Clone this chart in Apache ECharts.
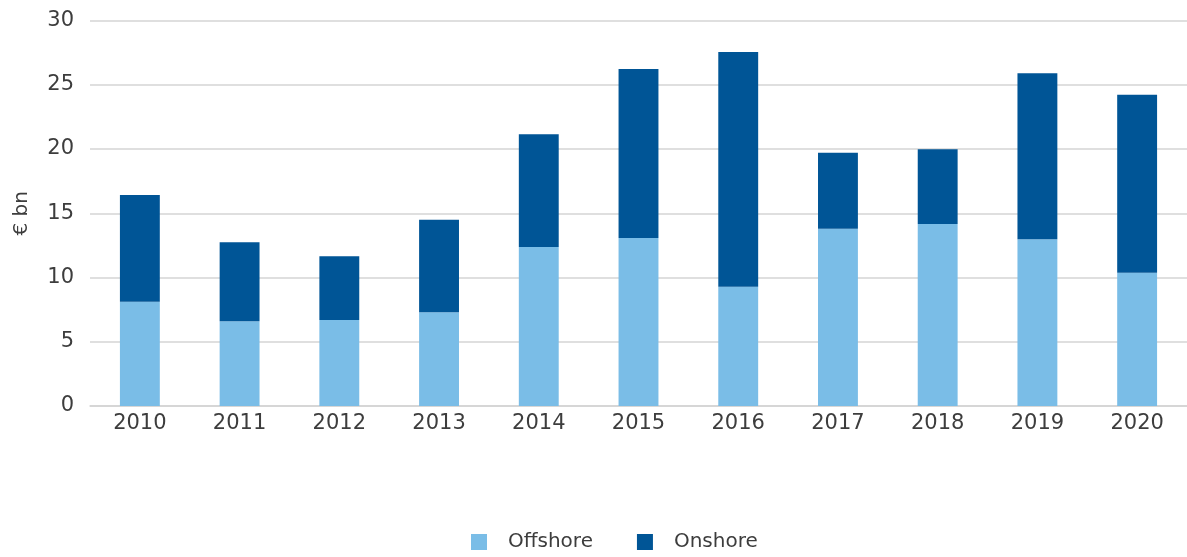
<!DOCTYPE html>
<html>
<head>
<meta charset="utf-8">
<script src="https://cdn.jsdelivr.net/npm/echarts@6/dist/echarts.min.js"></script>
<style>
    html, body { margin: 0; padding: 0; background: #fff; }
    #chart { width: 1187px; height: 557px; }
</style>
</head>
<body>
<div id="chart"></div>
<script>
const years = ['2010', '2011', '2012', '2013', '2014', '2015', '2016', '2017', '2018', '2019', '2020']
const offshore = [8.12, 6.59, 6.69, 7.29, 12.37, 13.07, 9.28, 13.8, 14.16, 12.97, 10.37]
const onshore = [8.3, 6.15, 4.96, 7.21, 8.77, 13.16, 18.27, 5.91, 5.82, 12.92, 13.86]

const font = 'DejaVu Sans'
const textColor = '#3d3d3d'

let chart = echarts.init(document.getElementById('chart'))
chart.setOption({
    animation: false,
    textStyle: {
        fontFamily: font
    },
    grid: {
        left: 90,
        right: 0,
        top: 20.5,
        bottom: 151
    },
    legend: {
        left: 466,
        bottom: 0,
        itemWidth: 16,
        itemHeight: 16,
        itemGap: 44,
        icon: 'rect',
        textStyle: {
            fontFamily: font,
            fontSize: 20,
            color: textColor,
            padding: [0, 0, 0, 16]
        },
        data: ['Offshore', 'Onshore']
    },
    xAxis: {
        type: 'category',
        data: years,
        axisLine: {
            lineStyle: {
                color: '#d4d4d4',
                width: 1.5
            }
        },
        axisTick: { show: false },
        axisLabel: {
            fontSize: 21,
            color: textColor,
            margin: 7
        }
    },
    yAxis: {
        type: 'value',
        min: 0,
        max: 30,
        interval: 5,
        name: '€ bn',
        nameLocation: 'middle',
        nameRotate: 90,
        nameGap: 58,
        nameTextStyle: {
            fontSize: 20,
            color: textColor
        },
        axisLine: { show: false },
        axisTick: { show: false },
        axisLabel: {
            fontSize: 21,
            color: textColor,
            margin: 16
        },
        splitLine: {
            lineStyle: {
                color: '#d4d4d4',
                width: 1.5
            }
        }
    },
    series: [
        {
            name: 'Offshore',
            type: 'bar',
            stack: 'total',
            barWidth: '40%',
            itemStyle: {
                color: '#7abde7'
            },
            data: offshore
        },
        {
            name: 'Onshore',
            type: 'bar',
            stack: 'total',
            barWidth: '40%',
            itemStyle: {
                color: '#005596'
            },
            data: onshore
        }
    ]
})
</script>
</body>
</html>
